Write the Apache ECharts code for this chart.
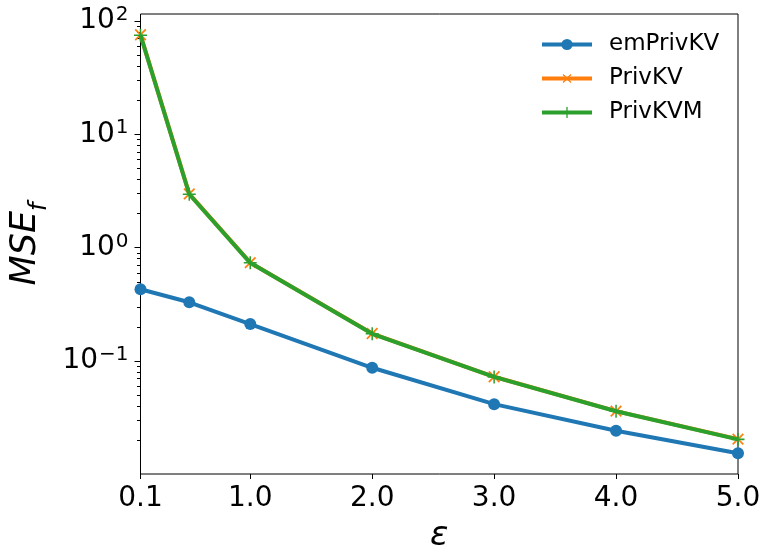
<!DOCTYPE html>
<html>
<head>
<meta charset="utf-8">
<script src="https://cdn.jsdelivr.net/npm/echarts@6/dist/echarts.min.js"></script>
<style>
html,body{margin:0;padding:0;background:#fff;}
#chart{width:766px;height:552px;}
</style>
</head>
<body>
<div id="chart"></div>
<script>
const epsilonValues = [0.1, 0.5, 1.0, 2.0, 3.0, 4.0, 5.0];
const emPrivKV = [0.43, 0.33, 0.212, 0.0873, 0.0417, 0.0243, 0.0154];
const privKV = [75.4, 2.98, 0.738, 0.175, 0.0727, 0.0362, 0.0205];
const privKVM = [74.8, 2.96, 0.735, 0.174, 0.0725, 0.0361, 0.0204];
const xTickValues = [0.1, 1.0, 2.0, 3.0, 4.0, 5.0];
const yMajorTicks = [0.1, 1, 10, 100];
const yMinorTicks = [0.02,0.03,0.04,0.05,0.06,0.07,0.08,0.09,
                     0.2,0.3,0.4,0.5,0.6,0.7,0.8,0.9,
                     2,3,4,5,6,7,8,9,
                     20,30,40,50,60,70,80,90];
const yMin = 0.0101, yMax = 115;

const FONT = 'DejaVu Sans';
const plusPath = 'path://M5.3,0H6.7V5.3H12V6.7H6.7V12H5.3V6.7H0V5.3H5.3Z';

const chart = echarts.init(document.getElementById('chart'), null, {renderer: 'canvas'});

function pairs(ys) { return epsilonValues.map((x, i) => [x, ys[i]]); }

function supLabel(v) {
  const e = Math.round(Math.log10(v));
  const s = e < 0 ? '\u2212' + Math.abs(e) : String(e);
  return '{b|10}{s|' + s + '}';
}

const option = {
  animation: false,
  backgroundColor: '#fff',
  textStyle: {fontFamily: FONT},
  grid: {
    left: 140.5, right: 28, top: 14, bottom: 78,
    show: true, borderColor: '#000', borderWidth: 1, backgroundColor: 'transparent',
    containLabel: false,
    outerBoundsMode: 'none'
  },
  legend: {
    orient: 'vertical',
    left: 535, top: 28,
    itemWidth: 50, itemHeight: 14, itemGap: 11,
    lineStyle: {width: 4},
    textStyle: {fontFamily: FONT, fontSize: 23, color: '#000', lineHeight: 23, padding: [0, 0, 0, 12]},
    data: ['emPrivKV', 'PrivKV', 'PrivKVM']
  },
  xAxis: {
    type: 'value',
    min: 0.1, max: 5.0,
    name: '\u03b5',
    nameLocation: 'middle',
    nameGap: 45,
    nameTextStyle: {fontFamily: FONT, fontSize: 34, fontStyle: 'italic', color: '#000'},
    axisLine: {show: false},
    splitLine: {show: false},
    axisTick: {show: true, length: 5, lineStyle: {color: '#000', width: 1}, customValues: xTickValues},
    axisLabel: {
      customValues: xTickValues,
      formatter: v => Number(v).toFixed(1),
      fontFamily: FONT, fontSize: 28, color: '#000', margin: 11
    }
  },
  yAxis: [{
    type: 'log',
    logBase: 10,
    min: yMin, max: yMax,
    name: '{m|MSE}{f|f}',
    nameLocation: 'middle',
    nameRotate: 90,
    nameGap: 93,
    nameTextStyle: {
      rich: {
        m: {fontFamily: FONT, fontSize: 35, fontStyle: 'italic', color: '#000'},
        f: {fontFamily: FONT, fontSize: 24, fontStyle: 'italic', color: '#000', verticalAlign: 'bottom', padding: [0, 0, -8, 0]}
      }
    },
    axisLine: {show: false},
    splitLine: {show: false},
    axisTick: {show: true, length: 6, lineStyle: {color: '#000', width: 1}, customValues: yMajorTicks},
    axisLabel: {
      customValues: yMajorTicks,
      formatter: supLabel,
      margin: 12,
      rich: {
        b: {fontFamily: FONT, fontSize: 28, color: '#000'},
        s: {fontFamily: FONT, fontSize: 20, color: '#000', verticalAlign: 'top', padding: [0, 0, 12, 1]}
      }
    }
  }, {
    type: 'log',
    logBase: 10,
    min: yMin, max: yMax,
    position: 'left',
    offset: 0,
    axisLine: {show: false},
    splitLine: {show: false},
    axisLabel: {show: false},
    axisTick: {show: true, length: 3.5, lineStyle: {color: '#000', width: 1}, customValues: yMinorTicks}
  }],
  series: [{
    name: 'emPrivKV',
    type: 'line',
    data: pairs(emPrivKV),
    symbol: 'circle',
    symbolSize: 12,
    lineStyle: {color: '#1f77b4', width: 4},
    itemStyle: {color: '#1f77b4'},
    z: 2
  }, {
    name: 'PrivKV',
    type: 'line',
    data: pairs(privKV),
    symbol: plusPath,
    symbolRotate: 45,
    symbolSize: 15,
    lineStyle: {color: '#ff7f0e', width: 4},
    itemStyle: {color: '#ff7f0e'},
    z: 3
  }, {
    name: 'PrivKVM',
    type: 'line',
    data: pairs(privKVM),
    symbol: plusPath,
    symbolSize: 13,
    lineStyle: {color: '#2ca02c', width: 4},
    itemStyle: {color: '#2ca02c'},
    z: 4
  }]
};
chart.setOption(option);
</script>
</body>
</html>
